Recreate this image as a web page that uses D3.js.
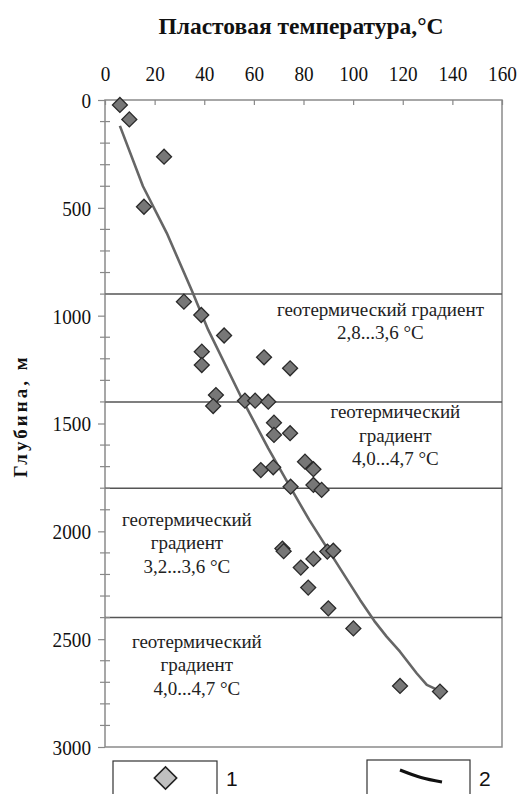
<!DOCTYPE html>
<html><head><meta charset="utf-8">
<script src="https://cdn.jsdelivr.net/npm/d3@7"></script>
<style>body{margin:0;background:#fff}svg{display:block}</style>
</head><body>
<script>
const xTicks = [0,20,40,60,80,100,120,140,160];
const yTicks = [0,500,1000,1500,2000,2500,3000];
const boundaries = [900,1400,1800,2400];
const pointsT = [6,9.8,23.8,15.7,31.8,38.8,48,39,39,64.1,74.6,44.7,43.6,56.4,60.5,65.8,68.1,68.1,74.6,80.6,84,62.8,67.8,74.8,84,87.3,71.5,72,78.9,84,89.6,92,81.9,90,100.1,118.9,135];
const pointsD = [23,90,263,495,935,997,1092,1167,1229,1193,1244,1368,1419,1394,1394,1399,1496,1553,1545,1677,1712,1716,1703,1793,1785,1808,2080,2092,2168,2128,2094,2090,2261,2357,2450,2717,2743];
const lineT = [6,15.3,24.9,34.9,41.6,55.1,65.8,74.6,82.3,88.7,96,102.8,108.5,113.5,118.9,125.6,129.7,135.5];
const lineD = [120,400,617,881,1066,1383,1615,1794,1947,2063,2195,2318,2415,2488,2558,2658,2712,2743];
const labels = [
  {lines:["геотермический градиент","2,8...3,6 °С"], t:111, d:1000},
  {lines:["геотермический","градиент","4,0...4,7 °С"], t:117, d:1475},
  {lines:["геотермический","градиент","3,2...3,6 °С"], t:33, d:1975},
  {lines:["геотермический","градиент","4,0...4,7 °С"], t:37, d:2540}
];
const title = "Пластовая температура,°С";
const yTitle = "Глубина, м";

const W=518,H=794;
const m={l:105,r:502,t:100,b:747};
const svg=d3.select("body").append("svg").attr("width",W).attr("height",H);
const x=d3.scaleLinear().domain([0,160]).range([m.l,m.r]);
const y=d3.scaleLinear().domain([0,3000]).range([m.t,m.b]);
const serif="Liberation Serif, DejaVu Serif, Noto Serif, serif";

// frame
svg.append("rect").attr("x",m.l).attr("y",m.t).attr("width",m.r-m.l).attr("height",m.b-m.t)
  .attr("fill","none").attr("stroke","#8a8a8a").attr("stroke-width",1.5);

// boundaries
svg.selectAll("line.b").data(boundaries).join("line")
  .attr("x1",m.l).attr("x2",m.r).attr("y1",d=>y(d)).attr("y2",d=>y(d))
  .attr("stroke","#555").attr("stroke-width",1.5);

// top axis
const xa=svg.append("g").attr("transform",`translate(0,${m.t})`)
  .call(d3.axisTop(x).tickValues(xTicks).tickSize(-5).tickPadding(0).tickFormat(d3.format("d")));
xa.select(".domain").remove();
xa.selectAll(".tick line").attr("stroke","#888").attr("stroke-width",1.2);
xa.selectAll(".tick text").style("font-family",serif).style("font-size","21px").attr("fill","#111")
  .attr("y",-19).attr("dy",0)
  .attr("textLength",d=>String(d).length*9.6).attr("lengthAdjust","spacingAndGlyphs");

// left axis
const ya=svg.append("g").attr("transform",`translate(${m.l},0)`)
  .call(d3.axisLeft(y).tickValues(yTicks).tickSize(7).tickPadding(7).tickFormat(d3.format("d")));
ya.select(".domain").remove();
ya.selectAll(".tick line").attr("stroke","#888").attr("stroke-width",1.2);
ya.selectAll(".tick text").style("font-family",serif).style("font-size","21px").attr("fill","#111")
  .attr("dy","0.35em")
  .attr("textLength",d=>String(d).length*9.6).attr("lengthAdjust","spacingAndGlyphs");
// minor ticks
const minor=d3.range(100,3000,100).filter(v=>v%500!==0);
svg.selectAll("line.mi").data(minor).join("line")
  .attr("x1",m.l-5).attr("x2",m.l+5).attr("y1",d=>y(d)).attr("y2",d=>y(d))
  .attr("stroke","#888").attr("stroke-width",1.2);

// line
const lineData=lineT.map((t,i)=>[t,lineD[i]]);
svg.append("path").datum(lineData)
  .attr("d",d3.line().x(d=>x(d[0])).y(d=>y(d[1])))
  .attr("fill","none").attr("stroke","#666").attr("stroke-width",2.6).attr("stroke-linejoin","round");

// points
const diamond=d3.symbol(d3.symbolSquare,112);
svg.selectAll("path.p").data(pointsT.map((t,i)=>[t,pointsD[i]])).join("path")
  .attr("d",diamond).attr("transform",d=>`translate(${x(d[0])},${y(d[1])}) rotate(45)`)
  .attr("fill","#777").attr("stroke","#2a2a2a").attr("stroke-width",1.3);

// labels
labels.forEach(L=>{
  const tx=svg.append("text").style("font-family",serif).style("font-size","19px").attr("fill","#222")
    .attr("text-anchor","middle");
  L.lines.forEach((s,i)=>{
    tx.append("tspan").attr("x",x(L.t)).attr("y",y(L.d)+i*23.5).text(s);
  });
});

// titles
svg.append("text").attr("x",301).attr("y",34).attr("text-anchor","middle")
  .style("font-family",serif).style("font-weight","bold").style("font-size","24px").attr("fill","#111")
  .attr("textLength",285).attr("lengthAdjust","spacingAndGlyphs").text(title);
svg.append("text").attr("transform","translate(27,416) rotate(-90)").attr("text-anchor","middle")
  .style("font-family",serif).style("font-weight","bold").style("font-size","19px").attr("fill","#111")
  .attr("letter-spacing",3).text(yTitle);

// legend
const sans="Liberation Sans, Arial, sans-serif";
svg.append("rect").attr("x",113).attr("y",761).attr("width",104).attr("height",60)
  .attr("fill","none").attr("stroke","#333").attr("stroke-width",1.2);
svg.append("path").attr("d",d3.symbol(d3.symbolSquare,250)).attr("transform","translate(165.5,778) rotate(45)")
  .attr("fill","#c0c0c0").attr("stroke","#222").attr("stroke-width",1.6);
svg.append("text").attr("x",226).attr("y",786).style("font-family",sans).style("font-size","21px").attr("fill","#111").text("1");
svg.append("rect").attr("x",367).attr("y",760).attr("width",103).attr("height",60)
  .attr("fill","none").attr("stroke","#333").attr("stroke-width",1.2);
svg.append("path").datum([[400,770],[421,777.5],[442,782]])
  .attr("d",d3.line().curve(d3.curveCatmullRom)).attr("fill","none").attr("stroke","#111").attr("stroke-width",3);
svg.append("text").attr("x",479).attr("y",786).style("font-family",sans).style("font-size","21px").attr("fill","#111").text("2");
</script>
</body></html>
